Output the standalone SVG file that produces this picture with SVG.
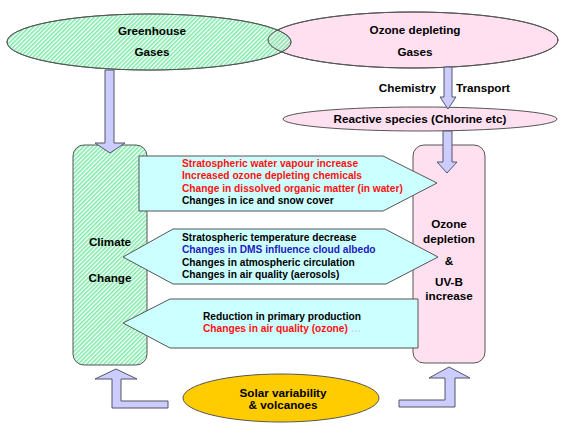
<svg xmlns="http://www.w3.org/2000/svg" width="567" height="439" viewBox="0 0 567 439">
<defs>
<pattern id="hatch" width="3" height="3" patternUnits="userSpaceOnUse" patternTransform="rotate(45)">
<rect x="0" y="0" width="1.6" height="3" fill="#66E89A" fill-opacity="0.85"/>
</pattern>
</defs>
<style>
.lbl{font-family:"Liberation Sans",Arial,sans-serif;font-weight:bold;font-size:11.7px;fill:#000;text-anchor:middle}
.t{font-family:"Liberation Sans",Arial,sans-serif;font-weight:bold;font-size:10.2px;fill:#000}
.red{fill:#FF1010}
.blue{fill:#2020C0}
.arr{fill:#CCCCFF;stroke:#555566;stroke-width:1}
.call{fill:#CCFFFF;stroke:#555555;stroke-width:1}
.edge{stroke:#555555;stroke-width:1}
</style>
<rect width="567" height="439" fill="#FFFFFF"/>

<g id="ozone-gases">
<ellipse cx="413" cy="40" rx="145" ry="28" fill="#FFE0F0" class="edge"/>
</g>
<g id="greenhouse">
<ellipse cx="149" cy="42" rx="142" ry="28" fill="#FFFFFF" fill-opacity="0.45" class="edge"/>
<ellipse cx="149" cy="42" rx="142" ry="28" fill="url(#hatch)" stroke="#555555"/>
<text class="lbl" x="152" y="35">Greenhouse</text>
<text class="lbl" x="152" y="56">Gases</text>
</g>
<g id="ozone-gases-label">
<ellipse cx="413" cy="40" rx="145" ry="28" fill="none" class="edge"/>
<text class="lbl" x="415" y="34">Ozone depleting</text>
<text class="lbl" x="415" y="56">Gases</text>
</g>

<g id="climate-change">
<rect x="73" y="145" width="74" height="220" rx="11" fill="url(#hatch)" stroke="#555555"/>
<text class="lbl" x="110" y="246">Climate</text>
<text class="lbl" x="110" y="282">Change</text>
</g>

<g id="ozone-depletion">
<rect x="413" y="145" width="72" height="218" rx="11" fill="#FFE0F0" class="edge"/>
<text class="lbl" x="449" y="228">Ozone</text>
<text class="lbl" x="449" y="243">depletion</text>
<text class="lbl" x="449" y="265">&amp;</text>
<text class="lbl" x="449" y="286">UV-B</text>
<text class="lbl" x="449" y="300">increase</text>
</g>

<g id="reactive-species">
<ellipse cx="420" cy="119" rx="137" ry="12" fill="#FFE0F0" class="edge"/>
<text class="lbl" x="420" y="123">Reactive species (Chlorine etc)</text>
</g>

<g id="solar">
<ellipse cx="281" cy="398" rx="98" ry="24" fill="#FFCC00" class="edge"/>
<text class="lbl" x="283" y="397">Solar variability</text>
<text class="lbl" x="283" y="409">&amp; volcanoes</text>
</g>

<g id="connectors">
<polygon class="arr" points="105,70 114,70 114,143 125,143 110,153 95,143 105,143"/>
<polygon class="arr" points="444,67 452,67 452,97 456,97 448,109 440,97 444,97"/>
<polygon class="arr" points="443,131 452,131 452,162 457,162 447,173 437,162 443,162"/>
<polygon class="arr" points="116,369 137,379 121,379 121,401 168,401 168,408 112,408 112,379 95,379"/>
<polygon class="arr" points="449,367 470,378 455,378 455,407 399,407 399,400 445,400 445,378 429,378"/>
<text class="lbl" x="436" y="92" text-anchor="end" style="text-anchor:end">Chemistry</text>
<text class="lbl" x="456" y="92" style="text-anchor:start">Transport</text>
</g>

<g id="effect-1">
<polygon class="call" points="139,156 383,156 437,183 383,211 139,211"/>
<text class="t red" x="182" y="167">Stratospheric water vapour increase</text>
<text class="t red" x="182" y="179">Increased ozone depleting chemicals</text>
<text class="t red" x="182" y="192">Change in dissolved organic matter (in water)</text>
<text class="t" x="182" y="204">Changes in ice and snow cover</text>
</g>

<g id="effect-2">
<polygon class="call" points="123,257 173,229 385,229 438,257 386,284 173,284"/>
<text class="t" x="182" y="241">Stratospheric temperature decrease</text>
<text class="t blue" x="182" y="253">Changes in DMS influence cloud albedo</text>
<text class="t" x="182" y="266">Changes in atmospheric circulation</text>
<text class="t" x="182" y="278">Changes in air quality (aerosols)</text>
</g>

<g id="effect-3">
<polygon class="call" points="123,323 170,299 418,299 418,348 170,348"/>
<text class="t" x="203" y="320">Reduction in primary production</text>
<text class="t" x="203" y="332"><tspan class="red">Changes in air quality (ozone)</tspan><tspan fill="#C8D8E8"> …</tspan></text>
</g>
</svg>
